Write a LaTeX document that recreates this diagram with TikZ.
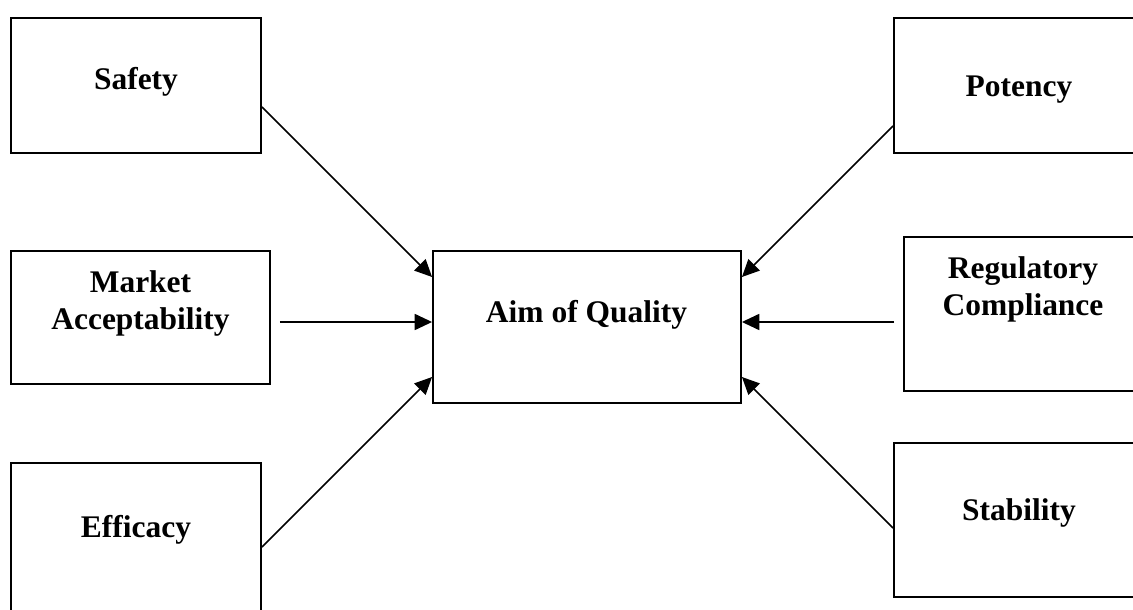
\documentclass[tikz,border=0pt]{standalone}
\usepackage{fontspec}
\setmainfont{Liberation Serif}
\usetikzlibrary{arrows.meta,calc}

\begin{document}
\begin{tikzpicture}[x=0.75pt, y=-0.75pt, >={Triangle[length=13pt,width=12pt]},
  box/.style={draw, line width=1.4pt, inner sep=0pt},
  lbl/.style={font=\fontsize{23.6}{27.75}\selectfont\bfseries, align=center, inner sep=0pt, anchor=base},
  feed/.style={->, line width=1.2pt}]
\useasboundingbox (0,0) rectangle (1133,610);
\clip (0,0) rectangle (1133,610);
% the seven boxes
\node[box, minimum width=187.5pt, minimum height=101.25pt] (safety) at (136,85.5) {};
\node[box, minimum width=194.25pt, minimum height=99.75pt] (market) at (140.5,317.5) {};
\node[box, minimum width=187.5pt, minimum height=111.75pt] (efficacy) at (136,537.5) {};
\node[box, minimum width=231pt, minimum height=114pt] (aim) at (587,327) {};
\node[box, minimum width=187.5pt, minimum height=101.25pt] (potency) at (1019,85.5) {};
\node[box, minimum width=180pt, minimum height=115.5pt] (regul) at (1024,314) {};
\node[box, minimum width=187.5pt, minimum height=115.5pt] (stability) at (1019,520) {};
% their texts
\node[lbl] (safetyt) at (136,90) {Safety};
\node[lbl] (markett) at (140.5,329) {Market\\Acceptability};
\node[lbl] (efficacyt) at (136,537) {Efficacy};
\node[lbl] (aimt) at (586.5,322) {Aim of Quality};
\node[lbl] (potencyt) at (1019,97) {Potency};
\node[lbl] (regult) at (1023,315) {Regulatory\\Compliance};
\node[lbl] (stabilityt) at (1019,520) {Stability};
% arrows into the aim
\draw[feed] ($(safety.east)+(0,21.5)$) -- ($(aim.west)+(0,-50)$);
\draw[feed] ($(market.east)+(9,4.5)$) -- ($(aim.west)+(0,-5)$);
\draw[feed] ($(efficacy.east)+(0,9.5)$) -- ($(aim.west)+(0,50)$);
\draw[feed] ($(potency.west)+(0,40.5)$) -- ($(aim.east)+(0,-50)$);
\draw[feed] ($(regul.west)+(-9,8)$) -- ($(aim.east)+(0,-5)$);
\draw[feed] ($(stability.west)+(0,8)$) -- ($(aim.east)+(0,50)$);
\end{tikzpicture}
\end{document}
